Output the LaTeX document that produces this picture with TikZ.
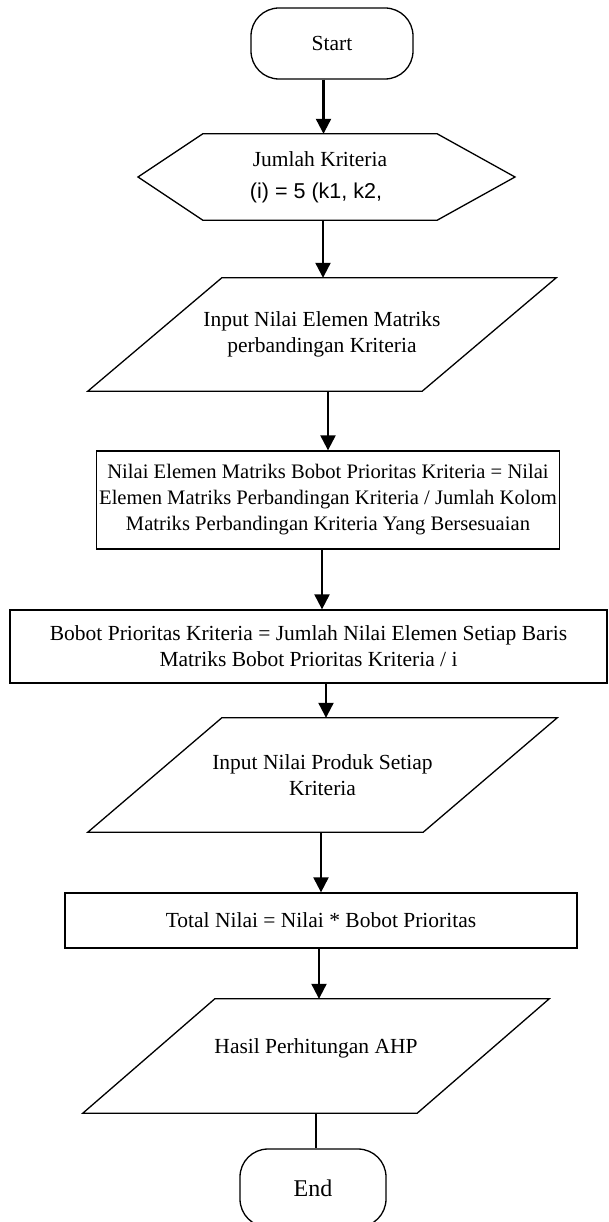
\documentclass[tikz,border=0pt]{standalone}
\usepackage{fontspec}
\setmainfont{Liberation Serif}
\newfontfamily\arialf{Liberation Sans}
\usetikzlibrary{arrows.meta,calc}
\begin{document}
\begin{tikzpicture}[x=1pt,y=-1pt,
  txt/.style={font=\fontsize{21.5}{26}\selectfont, align=center, inner sep=0pt},
  outline/.style={line width=1.3pt, line join=miter},
  term/.style={txt, draw, outline, rounded corners=28pt},
  procbox/.style={txt, draw, outline},
  arr/.style={line width=2.2pt, -{Triangle[width=15pt,length=15pt]}},
  plainline/.style={line width=2.2pt}]
\useasboundingbox (0,0) rectangle (609,1222);

% Start
\node[term, minimum width=162pt, minimum height=71pt] (start) at (332,43.5) {Start};

% Hexagon
\node[txt, minimum width=234pt, minimum height=86pt] (hex) at (320,177)
  {Jumlah Kriteria\\[6pt]{\arialf (i) = 5 (k1, k2,\hspace*{8pt}}};
\draw[outline] (hex.north west) -- (hex.north east) -- (515,0 |- hex.center)
  -- (hex.south east) -- (hex.south west) -- (138,0 |- hex.center) -- cycle;

% Parallelogram 1
\node[txt, minimum width=334pt, minimum height=113pt] (p1) at (322,334.5)
  {Input Nilai Elemen Matriks\\perbandingan Kriteria};
\draw[outline] ([xshift=67pt]p1.north west) -- ([xshift=67pt]p1.north east)
  -- ([xshift=-67pt]p1.south east) -- ([xshift=-67pt]p1.south west) -- cycle;

% Rectangle 1
\node[procbox, font=\fontsize{20.6}{26}\selectfont, minimum width=463pt, minimum height=98pt] (r1) at (328,500)
  {Nilai Elemen Matriks Bobot Prioritas Kriteria = Nilai\\
   Elemen Matriks Perbandingan Kriteria / Jumlah Kolom\\
   Matriks Perbandingan Kriteria Yang Bersesuaian};

% Rectangle 2
\node[procbox, minimum width=597pt, minimum height=73pt] (r2) at (308.5,646.5)
  {Bobot Prioritas Kriteria = Jumlah Nilai Elemen Setiap Baris\\
   Matriks Bobot Prioritas Kriteria / i};

% Parallelogram 2
\node[txt, minimum width=335pt, minimum height=114pt] (p2) at (322.5,775)
  {Input Nilai Produk Setiap\\Kriteria};
\draw[outline] ([xshift=67pt]p2.north west) -- ([xshift=67pt]p2.north east)
  -- ([xshift=-67pt]p2.south east) -- ([xshift=-67pt]p2.south west) -- cycle;

% Rectangle 3
\node[procbox, minimum width=512pt, minimum height=55pt] (r3) at (321,920.5)
  {Total Nilai = Nilai * Bobot Prioritas};

% Parallelogram 3
\node[txt, minimum width=334pt, minimum height=114pt] (p3) at (316,1056)
  {\raisebox{3pt}[0pt][0pt]{Hasil Perhitungan AHP}};
\draw[outline] ([xshift=66pt]p3.north west) -- ([xshift=66pt]p3.north east)
  -- ([xshift=-66pt]p3.south east) -- ([xshift=-66pt]p3.south west) -- cycle;

% End
\node[term, font=\fontsize{24}{28}\selectfont, minimum width=146pt, minimum height=78pt] (end) at (313,1188) {End};

% Connectors
\draw[arr] (323.5,0 |- start.south) -- (323.5,0 |- hex.north);
\draw[arr] (323,0 |- hex.south) -- (323,0 |- p1.north);
\draw[arr] (328,0 |- p1.south) -- (328,0 |- r1.north);
\draw[arr] (322,0 |- r1.south) -- (322,0 |- r2.north);
\draw[arr] (326,0 |- r2.south) -- (326,0 |- p2.north);
\draw[arr] (321,0 |- p2.south) -- (321,0 |- r3.north);
\draw[arr] (319,0 |- r3.south) -- (319,0 |- p3.north);
\draw[plainline] (316,0 |- p3.south) -- (316,0 |- end.north);
\end{tikzpicture}
\end{document}
